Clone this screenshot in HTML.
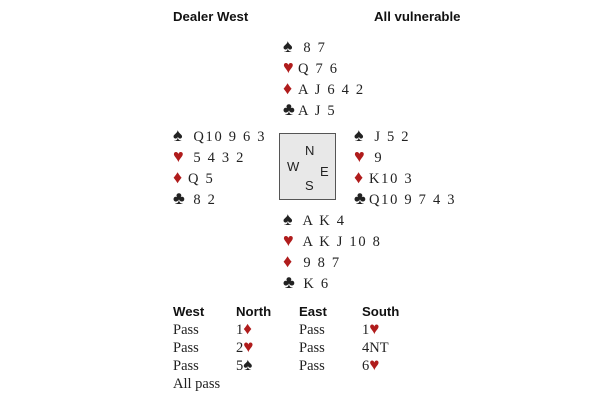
<!DOCTYPE html>
<html><head><style>
body{margin:0;width:600px;height:400px;background:#fff;position:relative;font-family:"Liberation Serif",serif;color:#222;overflow:hidden}
.a{position:absolute;white-space:pre;font-size:14.5px;line-height:21px;letter-spacing:1.7px}
.h{position:absolute;font-family:"Liberation Sans",sans-serif;font-weight:bold;font-size:13.2px;color:#111}
.r{color:#b01c1c}
.s{font-size:18px;letter-spacing:0;display:inline-block;width:15px;line-height:12px}
.box{position:absolute;left:279px;top:133px;width:55px;height:65px;border:1.5px solid #555;background:#e8e8e8}
.box span{position:absolute;font-family:"Liberation Sans",sans-serif;font-size:13px;color:#222}
.b{position:absolute;font-size:14.5px;line-height:18px;white-space:pre}
.t{font-size:17px;line-height:12px}
</style></head><body>
<div class="h" style="left:173px;top:9px">Dealer West</div>
<div class="h" style="left:374px;top:9px">All vulnerable</div>

<div class="a" style="left:283px;top:38px"><span class="s">♠</span> 8 7
<span class="r s">♥</span>Q 7 6
<span class="r s">♦</span>A J 6 4 2
<span class="s">♣</span>A J 5</div>

<div class="a" style="left:173px;top:127px"><span class="s">♠</span> Q10 9 6 3
<span class="r s">♥</span> 5 4 3 2
<span class="r s">♦</span>Q 5
<span class="s">♣</span> 8 2</div>

<div class="box"><span style="left:25px;top:9px">N</span><span style="left:7px;top:25px">W</span><span style="left:40px;top:30px">E</span><span style="left:25px;top:44px">S</span></div>

<div class="a" style="left:354px;top:127px"><span class="s">♠</span> J 5 2
<span class="r s">♥</span> 9
<span class="r s">♦</span>K10 3
<span class="s">♣</span>Q10 9 7 4 3</div>

<div class="a" style="left:283px;top:211px"><span class="s">♠</span> A K 4
<span class="r s">♥</span> A K J 10 8
<span class="r s">♦</span> 9 8 7
<span class="s">♣</span> K 6</div>

<div class="h" style="left:173px;top:304px">West</div>
<div class="h" style="left:236px;top:304px">North</div>
<div class="h" style="left:299px;top:304px">East</div>
<div class="h" style="left:362px;top:304px">South</div>
<div class="b" style="left:173px;top:321px">Pass
Pass
Pass
All pass</div>
<div class="b" style="left:236px;top:321px">1<span class="r t">♦</span>
2<span class="r t">♥</span>
5<span class="t">♠</span></div>
<div class="b" style="left:299px;top:321px">Pass
Pass
Pass</div>
<div class="b" style="left:362px;top:321px">1<span class="r t">♥</span>
4NT
6<span class="r t">♥</span></div>
</body></html>
